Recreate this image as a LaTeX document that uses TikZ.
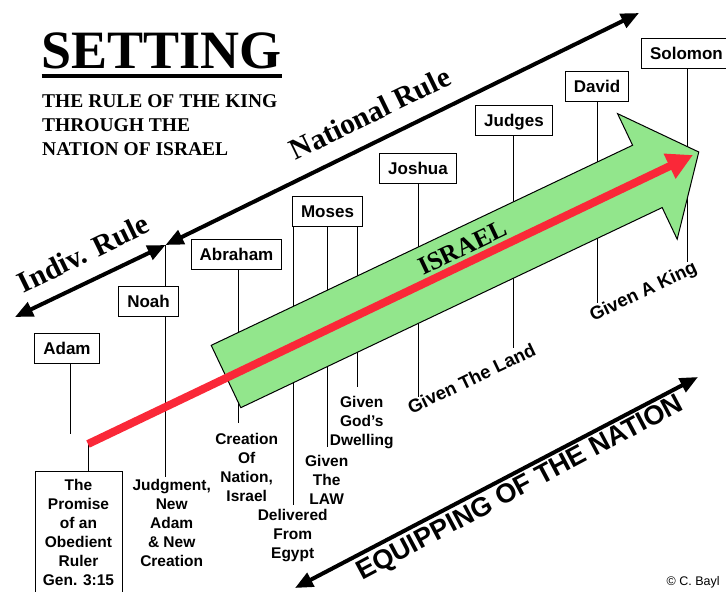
\documentclass[tikz,border=0pt]{standalone}
\usepackage{fontspec}
\setmainfont{Liberation Sans}
\newfontfamily\tmsfont{Liberation Serif}
\usepackage{tikz}
\usetikzlibrary{arrows.meta,backgrounds}
\definecolor{israelgreen}{RGB}{146,230,140}
\definecolor{promisered}{RGB}{250,40,56}

\begin{document}
\begin{tikzpicture} [x=1pt, y=-1pt,
					who/.style = {draw,
					    fill=white,
					    line width=1pt,
					    font=\bfseries\fontsize{17}{17}\selectfont,
					    inner xsep=8.5pt, inner ysep=6.75pt,
					    text height=14.5pt, text depth=2pt},
					event/.style = {align=center, anchor=north, inner sep=0pt,
					    font=\bfseries\fontsize{15.5}{19}\selectfont},
					slanted/.style = {inner sep=0pt, rotate=25.5,
					    font=\bfseries\fontsize{18.5}{18.5}\selectfont},
					rule/.style = {inner sep=0pt, rotate=26,
					    font=\tmsfont\bfseries\fontsize{29.5}{29.5}\selectfont},
					stem/.style = {line width=1pt},
					bigarrow/.style = {line width=4pt,
					    {Triangle[length=18pt,width=15pt]}-{Triangle[length=18pt,width=15pt]}}]

					\useasboundingbox (0,0) rectangle (726,592);

					\node (setting) at (41.5,68) [anchor=base west, inner sep=0pt,
					    font=\tmsfont\bfseries\fontsize{54}{54}\selectfont] {SETTING};
					\draw [line width=3.3pt] ([yshift=-8pt]setting.base west) -- ([yshift=-8pt]setting.base east);
					\node (subtitle) at (42,94) [anchor=north west, inner sep=0pt, align=left,
					    font=\tmsfont\bfseries\fontsize{19.5}{24}\selectfont]
					    {THE RULE OF THE KING\\THROUGH THE\\NATION OF ISRAEL};

					\coordinate (indivtip) at (15,317);
					\coordinate (junc) at (165.5,245);
					\coordinate (nationtip) at (639,13);
					\coordinate (equipL) at (295,588);
					\coordinate (equipR) at (698,377);
					\coordinate (redstart) at (88,444);
					\coordinate (redtip) at (693,155);

					\coordinate (adamend) at (70.5,434);
					\coordinate (noahend) at (165.5,477);
					\coordinate (abrahamend) at (238,423);
					\coordinate (egyptend) at (293.5,505);
					\coordinate (lawend) at (327.7,446.5);
					\coordinate (dwellend) at (357.7,386.5);
					\coordinate (joshuaend) at (418,396.5);
					\coordinate (judgesend) at (513.5,348);
					\coordinate (davidend) at (597,303);
					\coordinate (solomonend) at (687,261.5);

					\node (adam) at (67,348) [who] {Adam};
					\node (noah) at (148.5,301) [who] {Noah};
					\node (abraham) at (236.5,254) [who] {Abraham};
					\node (moses) at (327.5,211.5) [who] {Moses};
					\node (joshua) at (418,168.5) [who] {Joshua};
					\node (judges) at (514,120.5) [who] {Judges};
					\node (david) at (597,86) [who] {David};
					\node (solomon) at (686.5,53) [who] {Solomon};

					\node (promise) at (78.5,471) [event, draw, fill=white, line width=1pt,
					    inner xsep=6pt, inner ysep=8pt, minimum width=87pt]
					    {The\\Promise\\of an\\Obedient\\Ruler\\Gen. 3:15};
					\node (noahev) at (171.7,479) [event] {Judgment,\\New\\Adam\\\& New\\Creation};
					\node (creation) at (246.7,432.7) [event] {Creation\\Of\\Nation,\\Israel};
					\node (egypt) at (292.7,509) [event] {Delivered\\From\\Egypt};
					\node (law) at (326.7,455) [event] {Given\\The\\LAW};
					\node (dwell) at (361.7,396) [event] {Given\\God’s\\Dwelling};
					\node (land) at (471.5,378.5) [slanted] {Given The Land};
					\node (king) at (643.7,292.5) [slanted] {Given A King};

					\begin{scope}[on background layer]
						\draw [stem] (adam.south -| adamend) -- (adamend);
						\draw [stem] (redstart) -- (redstart |- promise.north);
						\draw [stem] (junc) -- (noahend);
						\draw [stem] (abraham.south -| abrahamend) -- (abrahamend);
						\draw [stem] (moses.south -| egyptend) -- (egyptend);
						\draw [stem] (moses.south -| lawend) -- (lawend);
						\draw [stem] (moses.south -| dwellend) -- (dwellend);
						\draw [stem] (joshua.south -| joshuaend) -- (joshuaend);
						\draw [stem] (judges.south -| judgesend) -- (judgesend);
						\draw [stem] (david.south -| davidend) -- (davidend);
						\draw [stem] (solomon.south -| solomonend) -- (solomonend);
					\end{scope}

					\begin{scope}[shift={(226,376.5)}, rotate=25.4]
						\filldraw [fill=israelgreen, draw=black, line width=1pt, line join=miter]
						    (0,-34.5) -- (466.5,-34.5) -- (466.5,-69.5) -- (523.4,0)
						    -- (466.5,69.5) -- (466.5,34.5) -- (0,34.5) -- cycle;
					\end{scope}
					\draw [promisered, line width=8pt, -{Triangle[length=26pt,width=26pt]}] (redstart) -- (redtip);
					\node (israel) at (462.5,247.5) [inner sep=0pt, rotate=25.4,
					    font=\tmsfont\bfseries\fontsize{25.5}{25.5}\selectfont] {ISRAEL};

					\draw [bigarrow] (indivtip) -- (junc);
					\draw [bigarrow] (junc) -- (nationtip);
					\node (indiv) at (83.3,253.3) [rule] {Indiv. Rule};
					\node (national) at (370,113.3) [rule] {National Rule};

					\draw [bigarrow] (equipL) -- (equipR);
					\node (equip) at (520.5,489) [inner sep=0pt, rotate=28,
					    font=\bfseries\fontsize{27}{27}\selectfont] {EQUIPPING OF THE NATION};

					\node (credit) at (666.5,585) [anchor=base west, inner sep=0pt,
					    font=\fontsize{12.5}{12.5}\selectfont] {© C. Bayl};

				\end{tikzpicture}
\end{document}
